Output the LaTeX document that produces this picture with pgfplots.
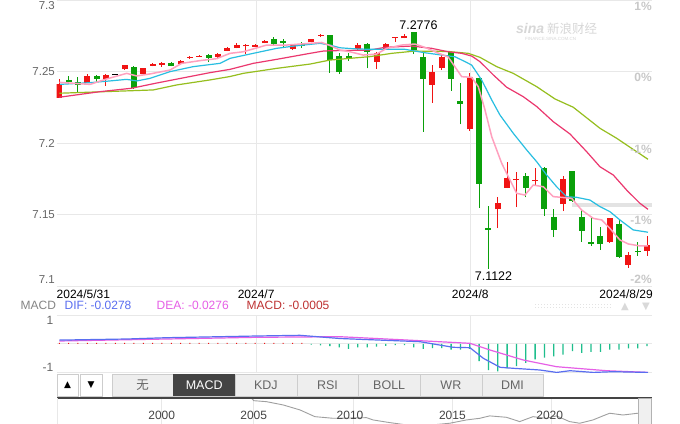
\documentclass[border=0pt]{standalone}
\usepackage{pgfplots}
\pgfplotsset{compat=1.18}
\usepackage{pgfplotstable}
\usepackage{fontspec}
\setmainfont{Liberation Sans}
\newfontfamily\cjk{Noto Sans CJK SC}
\newfontfamily\dejavu{DejaVu Sans}

\definecolor{cRed}{RGB}{240,20,20}
\definecolor{cGreen}{RGB}{10,160,10}
\definecolor{maA}{RGB}{255,160,190}
\definecolor{maB}{RGB}{40,190,225}
\definecolor{maC}{RGB}{235,55,110}
\definecolor{maD}{RGB}{150,190,30}
\definecolor{gridc}{RGB}{232,232,232}
\definecolor{difc}{RGB}{90,110,240}
\definecolor{deac}{RGB}{230,95,230}
\definecolor{macdc}{RGB}{190,50,50}
\definecolor{histg}{RGB}{30,190,140}
\definecolor{tabbg}{RGB}{238,238,238}
\definecolor{tabbd}{RGB}{205,205,205}
\definecolor{tabdark}{RGB}{68,68,68}
\definecolor{txtgray}{RGB}{102,102,102}
\definecolor{pctgray}{RGB}{200,200,200}
\definecolor{wmgray}{RGB}{215,215,215}

% i open high low close
\pgfplotstableread{
i o h l c
0 7.2318 7.2445 7.2318 7.2410
3 7.2422 7.2483 7.2420 7.2469
5 7.2448 7.2483 7.2399 7.2478
7 7.2515 7.2548 7.2513 7.2543
9 7.2485 7.2525 7.2483 7.2522
10 7.2541 7.2562 7.2536 7.2555
11 7.2548 7.2566 7.2534 7.2562
13 7.2555 7.2577 7.2553 7.2573
14 7.2596 7.2608 7.2590 7.2603
15 7.2604 7.2613 7.2601 7.2611
17 7.2601 7.2631 7.2585 7.2624
18 7.2645 7.2669 7.2643 7.2664
19 7.2664 7.2697 7.2662 7.2687
20 7.2676 7.2692 7.2620 7.2683
21 7.2673 7.2690 7.2671 7.2687
22 7.2699 7.2718 7.2697 7.2713
25 7.2659 7.2692 7.2650 7.2685
27 7.2706 7.2729 7.2704 7.2727
28 7.2750 7.2762 7.2741 7.2757
32 7.2655 7.2697 7.2650 7.2685
34 7.2569 7.2638 7.2521 7.2627
35 7.2655 7.2701 7.2654 7.2694
36 7.2734 7.2741 7.2708 7.2741
37 7.2732 7.2760 7.2731 7.2750
40 7.2408 7.2542 7.2280 7.2499
41 7.2524 7.2615 7.2510 7.2601
44 7.2096 7.2492 7.2087 7.2459
47 7.1536 7.1620 7.1404 7.1578
48 7.1687 7.1865 7.1685 7.1757
49 7.1741 7.1797 7.1552 7.1748
51 7.1733 7.1825 7.1703 7.1740
54 7.1573 7.1771 7.1524 7.1748
59 7.1310 7.1476 7.1301 7.1473
61 7.1147 7.1238 7.1126 7.1217
63 7.1247 7.1350 7.1210 7.1287
}\upcandles

\pgfplotstableread{
i o h l c
1 7.2441 7.2469 7.2410 7.2424
2 7.2424 7.2459 7.2359 7.2406
4 7.2466 7.2478 7.2427 7.2448
8 7.2529 7.2538 7.2376 7.2383
12 7.2562 7.2569 7.2536 7.2541
16 7.2613 7.2622 7.2566 7.2597
23 7.2727 7.2739 7.2678 7.2694
24 7.2713 7.2725 7.2669 7.2699
26 7.2694 7.2706 7.2667 7.2680
29 7.2755 7.2757 7.2493 7.2580
30 7.2608 7.2627 7.2483 7.2499
31 7.2608 7.2629 7.2576 7.2591
33 7.2692 7.2701 7.2522 7.2638
38 7.2774 7.2776 7.2622 7.2652
39 7.2601 7.2636 7.2079 7.2448
42 7.2634 7.2645 7.2366 7.2448
43 7.2294 7.2417 7.2131 7.2271
45 7.2452 7.2455 7.1548 7.1711
46 7.1403 7.1562 7.1122 7.1393
50 7.1769 7.1790 7.1620 7.1687
52 7.1823 7.1830 7.1490 7.1541
53 7.1480 7.1538 7.1341 7.1392
55 7.1804 7.1806 7.1587 7.1594
56 7.1480 7.1531 7.1310 7.1387
57 7.1306 7.1483 7.1283 7.1292
58 7.1350 7.1411 7.1254 7.1296
60 7.1434 7.1462 7.1196 7.1205
62 7.1247 7.1310 7.1210 7.1238
}\downcandles

\pgfplotstableread{
i o h l c
6 7.2475 7.2485 7.2475 7.2485
}\dojicandles

\pgfplotstableread{
i v
0 0.035
1 0.035
2 0.035
3 0.035
4 0.035
5 0.035
6 0.035
7 0.035
8 0.035
9 0.035
10 0.035
11 0.035
12 0.035
13 0.035
14 0.035
15 0.035
16 0.035
17 0.035
18 0.035
19 0.035
20 0.035
21 0.035
22 0.035
23 0.035
24 0.035
25 0.035
26 0.035
}\histpos

\pgfplotstableread{
i v
27 -0.03
28 -0.05
29 -0.08
30 -0.12
31 -0.17
32 -0.12
33 -0.12
34 -0.10
35 -0.07
36 -0.04
37 -0.04
38 -0.12
39 -0.17
40 -0.15
41 -0.15
42 -0.20
43 -0.20
44 -0.17
45 -0.60
46 -0.91
47 -0.95
48 -0.85
49 -0.77
50 -0.66
51 -0.54
52 -0.48
53 -0.43
54 -0.37
55 -0.25
56 -0.31
57 -0.28
58 -0.28
59 -0.20
60 -0.20
61 -0.16
62 -0.16
63 -0.08
}\histneg

\pgfplotsset{
  candlewick/.style={only marks, mark=*, mark size=0pt,
    mark options={draw opacity=0, fill opacity=0}, forget plot,
    error bars/.cd, y dir=plus, y explicit, error mark=none,
    error bar style={draw=#1, line width=1bp}},
  candlebody/.style={only marks, mark=*, mark size=0pt,
    mark options={draw opacity=0, fill opacity=0}, forget plot,
    error bars/.cd, y dir=both, y explicit, error mark=none,
    error bar style={draw=#1, line width=6bp}},
  nolabels/.style={xticklabel={\mbox{}}, yticklabel={\mbox{}}},
}

\begin{document}
\begin{tikzpicture}[font=\fontsize{12bp}{14bp}\selectfont]
\useasboundingbox (0,0) rectangle (680bp,-424bp);
\fill[white] (0,0) rectangle (680bp,-424bp);

% ================= main price axis =================
\begin{axis}[
  at={(56.5bp,-286bp)}, anchor=south west, scale only axis,
  width=595.5bp, height=286bp,
  xmin=-0.3, xmax=63.53, ymin=7.1, ymax=7.3,
  axis line style={draw=none}, major tick length=0pt,
  xtick={21.1,44.05}, ytick={7.1,7.15,7.2,7.25,7.3},
  nolabels,
  grid=major, major grid style={draw=gridc, line width=1bp},
  clip mode=individual,
]
% current-price band
\addplot[draw=gray!22, line width=4bp, forget plot] coordinates {(54.95,7.1567) (63.53,7.1567)};

% candles: wicks then bodies
\addplot[candlewick=cRed] table[x=i, y=l, y error plus expr=\thisrow{h}-\thisrow{l}] {\upcandles};
\addplot[candlebody=cRed] table[x=i, y=o, y error plus expr=\thisrow{c}-\thisrow{o}, y error minus expr=0] {\upcandles};
\addplot[candlewick=cGreen] table[x=i, y=l, y error plus expr=\thisrow{h}-\thisrow{l}] {\downcandles};
\addplot[candlebody=cGreen] table[x=i, y=o, y error plus expr=0, y error minus expr=\thisrow{o}-\thisrow{c}] {\downcandles};
\addplot[candlebody=black] table[x=i, y=o, y error plus expr=\thisrow{c}-\thisrow{o}, y error minus expr=0] {\dojicandles};

% moving averages
\addplot[maD, line width=1.2bp, mark=none] coordinates {
(0,7.2348) (10.07,7.2371) (12.58,7.2406) (16.15,7.2441) (18.30,7.2465) (19.72,7.2487) (23.30,7.2522) (26.87,7.2552) (29.01,7.2580) (33.30,7.2604) (35.63,7.2627) (38.12,7.2643) (41.69,7.2640) (43.84,7.2627) (45.09,7.2599) (46.88,7.2534) (48.66,7.2487) (51.17,7.2394) (53.13,7.2308) (55.09,7.2250) (57.95,7.2103) (59.74,7.2033) (61.89,7.1939) (63.1,7.1886)};
\addplot[maC, line width=1.2bp, mark=none] coordinates {
(0,7.2320) (4.36,7.2359) (7.76,7.2383) (10.26,7.2417) (16.15,7.2492) (18.30,7.2515) (20.79,7.2557) (23.30,7.2585) (26.87,7.2627) (28.30,7.2643) (29.01,7.2645) (33.30,7.2650) (34.91,7.2669) (37.77,7.2678) (39.91,7.2662) (41.69,7.2638) (43.13,7.2627) (44.20,7.2608) (45.09,7.2569) (46.52,7.2476) (47.95,7.2390) (49.73,7.2324) (51.17,7.2255) (52.95,7.2149) (54.74,7.2063) (56.53,7.1939) (57.95,7.1834) (59.38,7.1776) (60.81,7.1671) (62.24,7.1578) (63.1,7.1536)};
\addplot[maB, line width=1.2bp, mark=none] coordinates {
(0.08,7.2410) (3.29,7.2422) (5.43,7.2434) (7.22,7.2445) (8.30,7.2434) (9.72,7.2452) (11.86,7.2499) (14.36,7.2534) (17.22,7.2557) (18.30,7.2592) (20.79,7.2627) (23.30,7.2662) (25.44,7.2680) (27.94,7.2697) (29.01,7.2685) (30.08,7.2666) (31.51,7.2659) (33.30,7.2655) (37.05,7.2655) (39.20,7.2631) (40.99,7.2615) (42.41,7.2603) (43.49,7.2569) (44.20,7.2545) (45.27,7.2441) (46.35,7.2301) (47.23,7.2196) (48.66,7.2068) (50.10,7.1951) (51.17,7.1869) (52.24,7.1776) (53.31,7.1694) (54.38,7.1624) (55.46,7.1620) (56.88,7.1601) (57.95,7.1555) (59.02,7.1520) (60.09,7.1462) (61.52,7.1392) (63.1,7.1376)};
\addplot[maA, line width=1.5bp, mark=none] coordinates {
(0,7.2424) (3.29,7.2410) (5.08,7.2448) (7.22,7.2487) (8.30,7.2469) (9.72,7.2483) (11.86,7.2510) (13.12,7.2557) (15.08,7.2576) (16.87,7.2590) (18.30,7.2627) (19.72,7.2638) (22.23,7.2685) (24.37,7.2685) (26.87,7.2697) (28.12,7.2703) (29.01,7.2682) (30.08,7.2650) (31.15,7.2638) (32.58,7.2615) (34.02,7.2622) (35.09,7.2662) (36.70,7.2685) (38.12,7.2692) (39.38,7.2664) (40.45,7.2633) (41.69,7.2601) (43.13,7.2464) (44.20,7.2459) (44.91,7.2394) (45.63,7.2231) (46.35,7.2044) (47.42,7.1858) (47.95,7.1788) (49.02,7.1648) (49.91,7.1636) (50.80,7.1706) (51.88,7.1694) (52.95,7.1625) (53.85,7.1620) (54.92,7.1613) (55.99,7.1531) (57.23,7.1473) (58.14,7.1462) (59.02,7.1403) (60.09,7.1322) (60.99,7.1294) (62.24,7.1280) (63.1,7.1280)};

% y tick labels (left)
\begin{scope}[every node/.style={inner sep=0pt, text=txtgray, font=\fontsize{11.5bp}{13bp}\selectfont}]
\node[anchor=east, xshift=-1.5bp] at (axis cs:-0.3,7.2958) {7.3};
\node[anchor=east, xshift=-1.5bp] at (axis cs:-0.3,7.25) {7.25};
\node[anchor=east, xshift=-1.5bp] at (axis cs:-0.3,7.2) {7.2};
\node[anchor=east, xshift=-1.5bp] at (axis cs:-0.3,7.15) {7.15};
\node[anchor=east, xshift=-1.5bp] at (axis cs:-0.3,7.1045) {7.1};
\end{scope}
% percentage labels (right)
\begin{scope}[every node/.style={inner sep=0pt, text=pctgray, font=\bfseries\fontsize{12bp}{14bp}\selectfont}]
\node[anchor=north east, yshift=-1.5bp] at (axis cs:63.53,7.3) {1\%};
\node[anchor=north east, yshift=-1.5bp] at (axis cs:63.53,7.25) {0\%};
\node[anchor=north east, yshift=-1.5bp] at (axis cs:63.53,7.2) {-1\%};
\node[anchor=north east, yshift=-1.5bp] at (axis cs:63.53,7.15) {-1\%};
\node[anchor=south east, yshift=2bp] at (axis cs:63.53,7.1) {-2\%};
\end{scope}
% date labels
\begin{scope}[every node/.style={inner sep=0pt, text=black}]
\node[anchor=base west, yshift=-12.5bp] at (axis cs:-0.3,7.1) {2024/5/31};
\node[anchor=base, yshift=-12.5bp] at (axis cs:21.1,7.1) {2024/7};
\node[anchor=base, yshift=-12.5bp] at (axis cs:44.05,7.1) {2024/8};
\node[anchor=base east, xshift=1bp, yshift=-12.5bp] at (axis cs:63.53,7.1) {2024/8/29};
\end{scope}
% high / low annotations
\node[inner sep=0pt, anchor=base, yshift=3bp, font=\fontsize{12.5bp}{14bp}\selectfont] at (axis cs:38.5,7.2776) {7.2776};
\node[inner sep=0pt, anchor=base, yshift=-11.5bp, font=\fontsize{12.5bp}{14bp}\selectfont] at (axis cs:46.54,7.1122) {7.1122};
\end{axis}

% watermark
\node[inner sep=0pt, anchor=base west, text=wmgray, font=\bfseries\itshape\fontsize{14bp}{14bp}\selectfont] at (516bp,-33bp) {sina};
\node[inner sep=0pt, anchor=base west, text=wmgray, font=\cjk\fontsize{12.5bp}{14bp}\selectfont] at (547bp,-33bp) {新浪财经};
\node[inner sep=0pt, anchor=base west, text=wmgray, font=\fontsize{4.5bp}{5bp}\selectfont] at (525bp,-40bp) {FINANCE.SINA.COM.CN};

% ================= MACD header =================
\node[inner sep=0pt, anchor=base west, text=txtgray!80] at (20.5bp,-309.5bp) {MACD};
\node[inner sep=0pt, anchor=base west, text=difc] at (64.5bp,-309.5bp) {DIF: -0.0278};
\node[inner sep=0pt, anchor=base west, text=deac] at (156.5bp,-309.5bp) {DEA: -0.0276};
\node[inner sep=0pt, anchor=base west, text=macdc] at (246.5bp,-309.5bp) {MACD: -0.0005};
\foreach \xx in {535,538,...,611} {
  \fill[gray!22] (\xx bp,-303.5bp) rectangle ++(1.2bp,-1.2bp);
  \fill[gray!22] (\xx bp,-306.5bp) rectangle ++(1.2bp,-1.2bp);
}
\node[inner sep=0pt, text=gray!30, font=\dejavu\fontsize{10bp}{10bp}\selectfont] at (625bp,-306.5bp) {▲};
\node[inner sep=0pt, text=gray!30, font=\dejavu\fontsize{10bp}{10bp}\selectfont] at (646bp,-306.5bp) {▼};

% ================= MACD panel =================
\begin{axis}[
  at={(56.5bp,-372.7bp)}, anchor=south west, scale only axis,
  width=595.5bp, height=57.7bp,
  xmin=-0.3, xmax=63.53, ymin=-1, ymax=1,
  axis line style={draw=none}, major tick length=0pt,
  xtick={21.1,44.05}, ytick={-1,0,1},
  nolabels,
  grid=major, major grid style={draw=gridc, line width=1bp},
  clip mode=individual,
]
\addplot[ybar, bar width=1bp, fill=cRed, draw=none, forget plot] table[x=i,y=v] {\histpos};
\addplot[ybar, bar width=1.3bp, fill=histg, draw=none, forget plot] table[x=i,y=v] {\histneg};
\addplot[deac, line width=1.2bp, mark=none] coordinates {
(0,0.099) (11.51,0.168) (21.16,0.227) (30.08,0.248) (37.23,0.133) (44.02,0.019) (46.16,-0.213) (49.73,-0.560) (53.31,-0.792) (58.67,-0.931) (63.1,-0.99)};
\addplot[difc, line width=1.2bp, mark=none] coordinates {
(0,0.13) (7.22,0.168) (11.51,0.213) (21.16,0.272) (25.8,0.296) (30.08,0.185) (38.66,0.075) (42.23,-0.120) (44.02,-0.133) (45.45,-0.501) (47.25,-0.813) (48.66,-0.847) (51.52,-0.906) (53.31,-0.99) (54.74,-0.931) (57.23,-0.99) (59.38,-0.965) (63.1,-0.99)};
\node[inner sep=0pt, anchor=east, xshift=-3bp, text=txtgray] at (rel axis cs:0,0.913) {1};
\node[inner sep=0pt, anchor=east, xshift=-3bp, text=txtgray] at (rel axis cs:0,0.099) {-1};
\end{axis}

% ================= tab bar =================
\draw[tabbd, fill=white] (57bp,-374bp) rectangle (78bp,-396bp);
\draw[tabbd, fill=white] (80bp,-374bp) rectangle (102bp,-396bp);
\node[inner sep=0pt, font=\dejavu\fontsize{9bp}{9bp}\selectfont] at (67.5bp,-385bp) {▲};
\node[inner sep=0pt, font=\dejavu\fontsize{9bp}{9bp}\selectfont] at (91bp,-385bp) {▼};
\foreach \k in {0,...,6} {
  \draw[tabbd, fill=tabbg] (111.7bp+\k*61.67bp,-374bp) rectangle ++(61.67bp,-22bp);
}
\fill[tabdark] (173.4bp,-374bp) rectangle ++(61.67bp,-22bp);
\begin{scope}[every node/.style={inner sep=0pt, text=txtgray, font=\fontsize{12.5bp}{14bp}\selectfont}]
\node[font=\cjk\fontsize{12.5bp}{14bp}\selectfont] at (142.5bp,-385bp) {无};
\node[text=white] at (204.2bp,-385bp) {MACD};
\node at (265.9bp,-385bp) {KDJ};
\node at (327.5bp,-385bp) {RSI};
\node at (389.2bp,-385bp) {BOLL};
\node at (450.9bp,-385bp) {WR};
\node at (512.5bp,-385bp) {DMI};
\end{scope}

% ================= overview =================
\begin{axis}[
  at={(57bp,-424bp)}, anchor=south west, scale only axis,
  width=595bp, height=26bp,
  xmin=1995.1, xmax=2025.05, ymin=6.25, ymax=8.30,
  axis line style={draw=none}, major tick length=0pt,
  xtick={2000.37,2005,2010,2015,2020}, ytick=\empty,
  nolabels,
  xmajorgrids, major grid style={draw=gridc, line width=1bp},
  clip mode=individual,
]
\addplot[gray!75, line width=0.9bp, mark=none] coordinates {
(1995.10,8.28) (2004.90,8.28) (2005.0,8.09) (2005.65,8.01) (2006.49,7.75) (2007.33,7.36) (2008.08,6.83) (2009.0,6.70) (2010.68,6.75) (2011.01,6.57) (2011.85,6.36) (2012.69,6.18) (2014.0,6.18) (2014.87,6.31) (2015.71,6.57) (2016.38,6.70) (2016.88,6.89) (2017.72,6.78) (2018.39,6.44) (2019.06,6.83) (2019.73,6.70) (2020.24,6.89) (2020.90,6.44) (2021.41,6.31) (2022.08,6.57) (2022.58,6.89) (2022.92,7.10) (2023.59,6.96) (2024.34,7.10)};
\begin{scope}[every node/.style={inner sep=0pt, anchor=base, yshift=5bp, text=tabdark}]
\node at (axis cs:2000.37,6.25) {2000};
\node at (axis cs:2005,6.25) {2005};
\node at (axis cs:2009.85,6.25) {2010};
\node at (axis cs:2015,6.25) {2015};
\node at (axis cs:2019.9,6.25) {2020};
\end{scope}
\end{axis}
\draw[tabdark, line width=2bp] (57bp,-397.5bp) -- (652bp,-397.5bp);
\draw[gridc, line width=1bp] (57.5bp,-398bp) -- (57.5bp,-424bp);
\draw[gray!60, fill=gray!12] (638.5bp,-398.5bp) rectangle (651.5bp,-424.5bp);
\end{tikzpicture}
\end{document}
